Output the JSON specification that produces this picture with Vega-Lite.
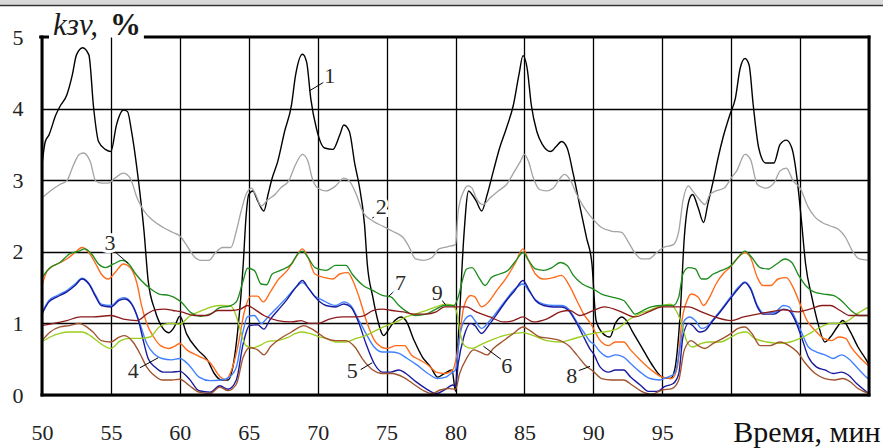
{
"$schema": "https://vega.github.io/schema/vega-lite/v6.json",
"width": 827, "height": 358,
"autosize": {"type": "none"},
"padding": {"left": 42, "top": 37, "right": 14, "bottom": 53},
"background": "white",
"config": {"view": {"stroke": null}},
"datasets": {
"curves": [
{"s":"1","t":50,"v":3.22},{"s":"1","t":50.24,"v":3.54},{"s":"1","t":50.5,"v":3.63},{"s":"1","t":51,"v":3.91},{"s":"1","t":51.3,"v":4.03},{"s":"1","t":51.8,"v":4.19},{"s":"1","t":52.2,"v":4.47},{"s":"1","t":52.5,"v":4.75},{"s":"1","t":52.95,"v":4.85},{"s":"1","t":53.4,"v":4.75},{"s":"1","t":53.75,"v":4.0},{"s":"1","t":54.1,"v":3.54},{"s":"1","t":54.6,"v":3.43},{"s":"1","t":55,"v":3.4},{"s":"1","t":55.4,"v":3.77},{"s":"1","t":55.9,"v":3.98},{"s":"1","t":56.2,"v":3.96},{"s":"1","t":56.5,"v":3.68},{"s":"1","t":57,"v":2.99},{"s":"1","t":57.4,"v":2.29},{"s":"1","t":57.7,"v":1.6},{"s":"1","t":58.2,"v":1.18},{"s":"1","t":58.7,"v":0.95},{"s":"1","t":59.2,"v":0.87},{"s":"1","t":59.6,"v":0.95},{"s":"1","t":60,"v":1.1},{"s":"1","t":60.5,"v":0.85},{"s":"1","t":61.3,"v":0.63},{"s":"1","t":62,"v":0.49},{"s":"1","t":62.5,"v":0.3},{"s":"1","t":63,"v":0.21},{"s":"1","t":63.5,"v":0.21},{"s":"1","t":63.8,"v":0.35},{"s":"1","t":64.2,"v":0.9},{"s":"1","t":64.6,"v":1.83},{"s":"1","t":64.8,"v":2.48},{"s":"1","t":65,"v":2.8},{"s":"1","t":65.3,"v":2.85},{"s":"1","t":65.65,"v":2.71},{"s":"1","t":66.1,"v":2.57},{"s":"1","t":66.4,"v":2.8},{"s":"1","t":66.7,"v":3.03},{"s":"1","t":67.1,"v":3.26},{"s":"1","t":67.6,"v":3.68},{"s":"1","t":68.1,"v":4.05},{"s":"1","t":68.4,"v":4.47},{"s":"1","t":68.9,"v":4.76},{"s":"1","t":69.2,"v":4.65},{"s":"1","t":69.5,"v":4.14},{"s":"1","t":69.9,"v":3.73},{"s":"1","t":70.5,"v":3.45},{"s":"1","t":71.1,"v":3.43},{"s":"1","t":71.6,"v":3.63},{"s":"1","t":71.9,"v":3.77},{"s":"1","t":72.3,"v":3.68},{"s":"1","t":72.7,"v":3.22},{"s":"1","t":73,"v":2.94},{"s":"1","t":73.4,"v":2.38},{"s":"1","t":73.6,"v":1.83},{"s":"1","t":74,"v":1.37},{"s":"1","t":74.3,"v":1.09},{"s":"1","t":74.8,"v":0.83},{"s":"1","t":75.1,"v":0.9},{"s":"1","t":75.6,"v":1.04},{"s":"1","t":76.05,"v":1.09},{"s":"1","t":76.4,"v":1.04},{"s":"1","t":77,"v":0.76},{"s":"1","t":77.6,"v":0.53},{"s":"1","t":78.2,"v":0.39},{"s":"1","t":78.7,"v":0.25},{"s":"1","t":79.2,"v":0.3},{"s":"1","t":79.75,"v":0.35},{"s":"1","t":80,"v":0.05},{"s":"1","t":80.15,"v":0.6},{"s":"1","t":80.3,"v":1.13},{"s":"1","t":80.6,"v":2.2},{"s":"1","t":80.95,"v":2.85},{"s":"1","t":81.2,"v":2.8},{"s":"1","t":81.5,"v":2.71},{"s":"1","t":81.9,"v":2.57},{"s":"1","t":82.3,"v":2.8},{"s":"1","t":82.75,"v":3.13},{"s":"1","t":83.2,"v":3.45},{"s":"1","t":83.7,"v":3.73},{"s":"1","t":84.2,"v":4.05},{"s":"1","t":84.6,"v":4.47},{"s":"1","t":84.9,"v":4.74},{"s":"1","t":85.2,"v":4.56},{"s":"1","t":85.5,"v":4.05},{"s":"1","t":85.9,"v":3.68},{"s":"1","t":86.3,"v":3.5},{"s":"1","t":86.9,"v":3.4},{"s":"1","t":87.3,"v":3.47},{"s":"1","t":87.7,"v":3.54},{"s":"1","t":88.1,"v":3.45},{"s":"1","t":88.55,"v":3.08},{"s":"1","t":89,"v":2.66},{"s":"1","t":89.5,"v":2.2},{"s":"1","t":89.9,"v":1.83},{"s":"1","t":90.2,"v":1.04},{"s":"1","t":90.7,"v":0.86},{"s":"1","t":91.2,"v":0.81},{"s":"1","t":91.6,"v":1.0},{"s":"1","t":92.05,"v":1.09},{"s":"1","t":92.4,"v":1.04},{"s":"1","t":92.8,"v":0.9},{"s":"1","t":93.5,"v":0.67},{"s":"1","t":94.2,"v":0.44},{"s":"1","t":95,"v":0.25},{"s":"1","t":95.6,"v":0.23},{"s":"1","t":95.9,"v":0.35},{"s":"1","t":96.3,"v":1.13},{"s":"1","t":96.6,"v":2.2},{"s":"1","t":97,"v":2.75},{"s":"1","t":97.2,"v":2.8},{"s":"1","t":97.6,"v":2.62},{"s":"1","t":98,"v":2.41},{"s":"1","t":98.3,"v":2.66},{"s":"1","t":98.7,"v":2.99},{"s":"1","t":99.05,"v":3.31},{"s":"1","t":99.4,"v":3.59},{"s":"1","t":99.9,"v":3.91},{"s":"1","t":100.3,"v":4.14},{"s":"1","t":100.65,"v":4.56},{"s":"1","t":101,"v":4.7},{"s":"1","t":101.3,"v":4.61},{"s":"1","t":101.6,"v":4.05},{"s":"1","t":102,"v":3.45},{"s":"1","t":102.5,"v":3.24},{"s":"1","t":103.1,"v":3.24},{"s":"1","t":103.55,"v":3.5},{"s":"1","t":104,"v":3.56},{"s":"1","t":104.4,"v":3.45},{"s":"1","t":104.8,"v":2.99},{"s":"1","t":105.1,"v":2.43},{"s":"1","t":105.4,"v":1.83},{"s":"1","t":105.85,"v":1.37},{"s":"1","t":106.3,"v":1.0},{"s":"1","t":106.8,"v":0.74},{"s":"1","t":107.2,"v":0.81},{"s":"1","t":107.7,"v":0.95},{"s":"1","t":108.1,"v":1.04},{"s":"1","t":108.6,"v":0.9},{"s":"1","t":109.2,"v":0.67},{"s":"1","t":109.8,"v":0.49},{"s":"1","t":110,"v":0.42},
{"s":"2","t":50,"v":2.75},{"s":"2","t":50.6,"v":2.85},{"s":"2","t":51.3,"v":2.94},{"s":"2","t":51.8,"v":2.99},{"s":"2","t":52.3,"v":3.22},{"s":"2","t":52.7,"v":3.36},{"s":"2","t":53,"v":3.38},{"s":"2","t":53.5,"v":3.26},{"s":"2","t":53.9,"v":2.99},{"s":"2","t":54.35,"v":2.96},{"s":"2","t":54.8,"v":2.96},{"s":"2","t":55.3,"v":3.03},{"s":"2","t":55.9,"v":3.1},{"s":"2","t":56.4,"v":3.03},{"s":"2","t":56.9,"v":2.75},{"s":"2","t":57.4,"v":2.57},{"s":"2","t":58.1,"v":2.43},{"s":"2","t":58.8,"v":2.34},{"s":"2","t":59.5,"v":2.27},{"s":"2","t":60,"v":2.22},{"s":"2","t":60.6,"v":2.06},{"s":"2","t":61.1,"v":1.92},{"s":"2","t":61.5,"v":1.88},{"s":"2","t":62.1,"v":1.88},{"s":"2","t":62.6,"v":1.99},{"s":"2","t":63.1,"v":2.06},{"s":"2","t":63.7,"v":2.06},{"s":"2","t":64.1,"v":2.29},{"s":"2","t":64.45,"v":2.57},{"s":"2","t":64.8,"v":2.8},{"s":"2","t":65.2,"v":2.89},{"s":"2","t":65.5,"v":2.8},{"s":"2","t":65.9,"v":2.64},{"s":"2","t":66.4,"v":2.73},{"s":"2","t":66.9,"v":2.8},{"s":"2","t":67.3,"v":2.89},{"s":"2","t":67.9,"v":2.99},{"s":"2","t":68.4,"v":3.22},{"s":"2","t":68.9,"v":3.36},{"s":"2","t":69.3,"v":3.26},{"s":"2","t":69.6,"v":3.03},{"s":"2","t":70,"v":2.89},{"s":"2","t":70.6,"v":2.85},{"s":"2","t":71.3,"v":2.92},{"s":"2","t":71.9,"v":3.03},{"s":"2","t":72.3,"v":2.99},{"s":"2","t":72.8,"v":2.8},{"s":"2","t":73.3,"v":2.55},{"s":"2","t":74,"v":2.43},{"s":"2","t":74.7,"v":2.36},{"s":"2","t":75.4,"v":2.29},{"s":"2","t":76.2,"v":2.2},{"s":"2","t":76.6,"v":2.08},{"s":"2","t":77.1,"v":1.9},{"s":"2","t":77.7,"v":1.88},{"s":"2","t":78.3,"v":1.92},{"s":"2","t":78.8,"v":2.04},{"s":"2","t":79.4,"v":2.07},{"s":"2","t":80,"v":2.1},{"s":"2","t":80.2,"v":2.57},{"s":"2","t":80.6,"v":2.85},{"s":"2","t":80.9,"v":2.92},{"s":"2","t":81.2,"v":2.89},{"s":"2","t":81.5,"v":2.75},{"s":"2","t":82,"v":2.66},{"s":"2","t":82.5,"v":2.75},{"s":"2","t":83.1,"v":2.85},{"s":"2","t":83.7,"v":2.94},{"s":"2","t":84.3,"v":3.13},{"s":"2","t":84.7,"v":3.26},{"s":"2","t":85,"v":3.36},{"s":"2","t":85.3,"v":3.26},{"s":"2","t":85.65,"v":3.03},{"s":"2","t":86.1,"v":2.87},{"s":"2","t":86.6,"v":2.85},{"s":"2","t":87.1,"v":2.89},{"s":"2","t":87.6,"v":3.03},{"s":"2","t":87.9,"v":3.08},{"s":"2","t":88.3,"v":3.01},{"s":"2","t":88.8,"v":2.8},{"s":"2","t":89.2,"v":2.66},{"s":"2","t":89.5,"v":2.57},{"s":"2","t":90,"v":2.45},{"s":"2","t":90.6,"v":2.34},{"s":"2","t":91.3,"v":2.29},{"s":"2","t":92.05,"v":2.27},{"s":"2","t":92.5,"v":2.15},{"s":"2","t":93,"v":1.99},{"s":"2","t":93.5,"v":1.9},{"s":"2","t":94,"v":1.9},{"s":"2","t":94.6,"v":1.99},{"s":"2","t":95.1,"v":2.06},{"s":"2","t":95.8,"v":2.1},{"s":"2","t":96.2,"v":2.29},{"s":"2","t":96.5,"v":2.71},{"s":"2","t":96.9,"v":2.92},{"s":"2","t":97.2,"v":2.85},{"s":"2","t":97.7,"v":2.73},{"s":"2","t":98.1,"v":2.66},{"s":"2","t":98.45,"v":2.8},{"s":"2","t":98.9,"v":2.85},{"s":"2","t":99.5,"v":2.89},{"s":"2","t":100,"v":3.03},{"s":"2","t":100.4,"v":3.13},{"s":"2","t":101,"v":3.36},{"s":"2","t":101.4,"v":3.29},{"s":"2","t":101.9,"v":2.94},{"s":"2","t":102.5,"v":2.89},{"s":"2","t":103.1,"v":2.96},{"s":"2","t":103.55,"v":3.13},{"s":"2","t":104,"v":3.17},{"s":"2","t":104.5,"v":2.99},{"s":"2","t":105,"v":2.89},{"s":"2","t":105.6,"v":2.62},{"s":"2","t":106.1,"v":2.48},{"s":"2","t":106.6,"v":2.41},{"s":"2","t":107.2,"v":2.36},{"s":"2","t":107.8,"v":2.31},{"s":"2","t":108.3,"v":2.2},{"s":"2","t":108.8,"v":2.01},{"s":"2","t":109.3,"v":1.9},{"s":"2","t":110,"v":1.88},
{"s":"3","t":50,"v":1.53},{"s":"3","t":50.4,"v":1.74},{"s":"3","t":51.1,"v":1.83},{"s":"3","t":51.8,"v":1.9},{"s":"3","t":52.4,"v":1.99},{"s":"3","t":52.9,"v":2.06},{"s":"3","t":53.4,"v":1.99},{"s":"3","t":53.9,"v":1.83},{"s":"3","t":54.3,"v":1.69},{"s":"3","t":54.8,"v":1.62},{"s":"3","t":55.3,"v":1.71},{"s":"3","t":55.9,"v":1.83},{"s":"3","t":56.4,"v":1.78},{"s":"3","t":56.9,"v":1.55},{"s":"3","t":57.2,"v":1.27},{"s":"3","t":57.6,"v":1.0},{"s":"3","t":58.1,"v":0.81},{"s":"3","t":58.6,"v":0.69},{"s":"3","t":59.2,"v":0.65},{"s":"3","t":59.7,"v":0.69},{"s":"3","t":60,"v":0.72},{"s":"3","t":60.5,"v":0.63},{"s":"3","t":61.4,"v":0.54},{"s":"3","t":62.2,"v":0.45},{"s":"3","t":62.9,"v":0.26},{"s":"3","t":63.3,"v":0.21},{"s":"3","t":63.7,"v":0.32},{"s":"3","t":64.2,"v":0.67},{"s":"3","t":64.7,"v":1.18},{"s":"3","t":65.15,"v":1.38},{"s":"3","t":65.65,"v":1.38},{"s":"3","t":66.05,"v":1.3},{"s":"3","t":66.6,"v":1.45},{"s":"3","t":67.1,"v":1.6},{"s":"3","t":67.8,"v":1.74},{"s":"3","t":68.4,"v":1.92},{"s":"3","t":68.9,"v":2.04},{"s":"3","t":69.3,"v":1.92},{"s":"3","t":69.8,"v":1.69},{"s":"3","t":70.5,"v":1.64},{"s":"3","t":71.1,"v":1.62},{"s":"3","t":71.6,"v":1.69},{"s":"3","t":72.2,"v":1.71},{"s":"3","t":72.5,"v":1.62},{"s":"3","t":73,"v":1.37},{"s":"3","t":73.6,"v":1.0},{"s":"3","t":74.2,"v":0.74},{"s":"3","t":75,"v":0.65},{"s":"3","t":75.7,"v":0.69},{"s":"3","t":76.3,"v":0.69},{"s":"3","t":76.8,"v":0.56},{"s":"3","t":77.4,"v":0.49},{"s":"3","t":78,"v":0.42},{"s":"3","t":78.6,"v":0.32},{"s":"3","t":79.2,"v":0.3},{"s":"3","t":79.8,"v":0.35},{"s":"3","t":80.2,"v":0.67},{"s":"3","t":80.6,"v":1.23},{"s":"3","t":81.1,"v":1.39},{"s":"3","t":81.4,"v":1.37},{"s":"3","t":81.9,"v":1.23},{"s":"3","t":82.4,"v":1.3},{"s":"3","t":83,"v":1.46},{"s":"3","t":83.7,"v":1.64},{"s":"3","t":84.3,"v":1.83},{"s":"3","t":84.9,"v":2.04},{"s":"3","t":85.3,"v":1.88},{"s":"3","t":85.8,"v":1.69},{"s":"3","t":86.4,"v":1.62},{"s":"3","t":87.1,"v":1.64},{"s":"3","t":87.7,"v":1.67},{"s":"3","t":88.2,"v":1.55},{"s":"3","t":88.8,"v":1.32},{"s":"3","t":89.3,"v":1.13},{"s":"3","t":89.8,"v":1.0},{"s":"3","t":90.5,"v":0.76},{"s":"3","t":91.1,"v":0.69},{"s":"3","t":91.6,"v":0.74},{"s":"3","t":92.2,"v":0.74},{"s":"3","t":92.7,"v":0.63},{"s":"3","t":93.4,"v":0.49},{"s":"3","t":94.2,"v":0.35},{"s":"3","t":95,"v":0.25},{"s":"3","t":95.7,"v":0.23},{"s":"3","t":96.1,"v":0.39},{"s":"3","t":96.4,"v":1.0},{"s":"3","t":96.8,"v":1.32},{"s":"3","t":97.1,"v":1.41},{"s":"3","t":97.6,"v":1.37},{"s":"3","t":98,"v":1.25},{"s":"3","t":98.45,"v":1.37},{"s":"3","t":98.9,"v":1.55},{"s":"3","t":99.5,"v":1.71},{"s":"3","t":100,"v":1.8},{"s":"3","t":100.5,"v":1.92},{"s":"3","t":101,"v":1.99},{"s":"3","t":101.4,"v":1.92},{"s":"3","t":101.9,"v":1.64},{"s":"3","t":102.3,"v":1.53},{"s":"3","t":102.9,"v":1.53},{"s":"3","t":103.4,"v":1.62},{"s":"3","t":104,"v":1.64},{"s":"3","t":104.5,"v":1.5},{"s":"3","t":105,"v":1.27},{"s":"3","t":105.5,"v":1.04},{"s":"3","t":106.1,"v":0.9},{"s":"3","t":106.7,"v":0.79},{"s":"3","t":107.3,"v":0.76},{"s":"3","t":107.8,"v":0.81},{"s":"3","t":108.3,"v":0.79},{"s":"3","t":108.7,"v":0.67},{"s":"3","t":109.3,"v":0.53},{"s":"3","t":110,"v":0.4},
{"s":"4","t":50,"v":1.15},{"s":"4","t":50.5,"v":1.32},{"s":"4","t":51.1,"v":1.39},{"s":"4","t":51.8,"v":1.46},{"s":"4","t":52.4,"v":1.55},{"s":"4","t":52.9,"v":1.63},{"s":"4","t":53.4,"v":1.56},{"s":"4","t":53.9,"v":1.39},{"s":"4","t":54.3,"v":1.27},{"s":"4","t":55,"v":1.25},{"s":"4","t":55.6,"v":1.34},{"s":"4","t":56,"v":1.36},{"s":"4","t":56.5,"v":1.28},{"s":"4","t":57.1,"v":1.0},{"s":"4","t":57.6,"v":0.72},{"s":"4","t":58.1,"v":0.58},{"s":"4","t":58.7,"v":0.51},{"s":"4","t":59.4,"v":0.49},{"s":"4","t":60,"v":0.51},{"s":"4","t":60.7,"v":0.41},{"s":"4","t":61.4,"v":0.25},{"s":"4","t":62.2,"v":0.2},{"s":"4","t":63,"v":0.21},{"s":"4","t":63.6,"v":0.25},{"s":"4","t":64.1,"v":0.39},{"s":"4","t":64.6,"v":0.9},{"s":"4","t":64.9,"v":1.09},{"s":"4","t":65.4,"v":1.11},{"s":"4","t":65.9,"v":1.0},{"s":"4","t":66.4,"v":1.09},{"s":"4","t":67.1,"v":1.23},{"s":"4","t":67.8,"v":1.37},{"s":"4","t":68.4,"v":1.5},{"s":"4","t":68.9,"v":1.57},{"s":"4","t":69.3,"v":1.5},{"s":"4","t":69.8,"v":1.38},{"s":"4","t":70.3,"v":1.33},{"s":"4","t":71.3,"v":1.25},{"s":"4","t":71.9,"v":1.3},{"s":"4","t":72.4,"v":1.25},{"s":"4","t":73,"v":1.04},{"s":"4","t":73.5,"v":0.86},{"s":"4","t":74.1,"v":0.67},{"s":"4","t":74.7,"v":0.6},{"s":"4","t":75.3,"v":0.6},{"s":"4","t":75.9,"v":0.58},{"s":"4","t":76.5,"v":0.51},{"s":"4","t":77.2,"v":0.42},{"s":"4","t":78,"v":0.3},{"s":"4","t":78.7,"v":0.23},{"s":"4","t":79.3,"v":0.25},{"s":"4","t":79.8,"v":0.32},{"s":"4","t":80,"v":0.35},{"s":"4","t":80.3,"v":0.81},{"s":"4","t":80.7,"v":1.06},{"s":"4","t":81.1,"v":1.11},{"s":"4","t":81.4,"v":1.04},{"s":"4","t":81.9,"v":0.93},{"s":"4","t":82.4,"v":1.02},{"s":"4","t":83,"v":1.16},{"s":"4","t":83.7,"v":1.34},{"s":"4","t":84.3,"v":1.48},{"s":"4","t":84.9,"v":1.55},{"s":"4","t":85.3,"v":1.46},{"s":"4","t":85.8,"v":1.33},{"s":"4","t":86.4,"v":1.27},{"s":"4","t":87.1,"v":1.25},{"s":"4","t":87.7,"v":1.25},{"s":"4","t":88.2,"v":1.2},{"s":"4","t":88.8,"v":1.02},{"s":"4","t":89.3,"v":0.88},{"s":"4","t":89.8,"v":0.74},{"s":"4","t":90,"v":0.72},{"s":"4","t":90.5,"v":0.6},{"s":"4","t":91.1,"v":0.53},{"s":"4","t":91.6,"v":0.56},{"s":"4","t":92.2,"v":0.53},{"s":"4","t":92.7,"v":0.44},{"s":"4","t":93.4,"v":0.32},{"s":"4","t":94.1,"v":0.23},{"s":"4","t":94.8,"v":0.21},{"s":"4","t":95.4,"v":0.25},{"s":"4","t":95.9,"v":0.3},{"s":"4","t":96.3,"v":0.67},{"s":"4","t":96.6,"v":1.04},{"s":"4","t":97,"v":1.09},{"s":"4","t":97.4,"v":1.04},{"s":"4","t":97.85,"v":0.93},{"s":"4","t":98.2,"v":0.95},{"s":"4","t":98.7,"v":1.06},{"s":"4","t":99.3,"v":1.2},{"s":"4","t":100,"v":1.38},{"s":"4","t":100.5,"v":1.5},{"s":"4","t":101,"v":1.58},{"s":"4","t":101.4,"v":1.5},{"s":"4","t":101.9,"v":1.25},{"s":"4","t":102.3,"v":1.15},{"s":"4","t":103.1,"v":1.15},{"s":"4","t":103.8,"v":1.25},{"s":"4","t":104.2,"v":1.23},{"s":"4","t":104.6,"v":1.09},{"s":"4","t":105.1,"v":0.88},{"s":"4","t":105.6,"v":0.67},{"s":"4","t":106.2,"v":0.6},{"s":"4","t":106.8,"v":0.56},{"s":"4","t":107.4,"v":0.51},{"s":"4","t":108,"v":0.56},{"s":"4","t":108.5,"v":0.51},{"s":"4","t":109.1,"v":0.39},{"s":"4","t":109.8,"v":0.25},{"s":"4","t":110,"v":0.22},
{"s":"5","t":50,"v":1.13},{"s":"5","t":50.5,"v":1.3},{"s":"5","t":51.1,"v":1.37},{"s":"5","t":51.8,"v":1.44},{"s":"5","t":52.4,"v":1.53},{"s":"5","t":52.9,"v":1.62},{"s":"5","t":53.4,"v":1.55},{"s":"5","t":53.9,"v":1.37},{"s":"5","t":54.3,"v":1.25},{"s":"5","t":55,"v":1.23},{"s":"5","t":55.6,"v":1.32},{"s":"5","t":56,"v":1.34},{"s":"5","t":56.5,"v":1.27},{"s":"5","t":57,"v":1.04},{"s":"5","t":57.4,"v":0.72},{"s":"5","t":57.7,"v":0.51},{"s":"5","t":58.2,"v":0.39},{"s":"5","t":58.8,"v":0.32},{"s":"5","t":59.4,"v":0.32},{"s":"5","t":60,"v":0.33},{"s":"5","t":60.7,"v":0.22},{"s":"5","t":61.4,"v":0.06},{"s":"5","t":62.2,"v":0.04},{"s":"5","t":62.9,"v":0.13},{"s":"5","t":63.5,"v":0.08},{"s":"5","t":64.1,"v":0.21},{"s":"5","t":64.6,"v":0.72},{"s":"5","t":65.05,"v":0.97},{"s":"5","t":65.65,"v":0.98},{"s":"5","t":66.1,"v":0.92},{"s":"5","t":66.5,"v":1.04},{"s":"5","t":67.1,"v":1.18},{"s":"5","t":67.8,"v":1.34},{"s":"5","t":68.4,"v":1.5},{"s":"5","t":68.9,"v":1.6},{"s":"5","t":69.3,"v":1.5},{"s":"5","t":69.8,"v":1.37},{"s":"5","t":70.6,"v":1.25},{"s":"5","t":71.3,"v":1.23},{"s":"5","t":71.9,"v":1.27},{"s":"5","t":72.4,"v":1.23},{"s":"5","t":73,"v":1.0},{"s":"5","t":73.5,"v":0.72},{"s":"5","t":74.1,"v":0.44},{"s":"5","t":74.7,"v":0.32},{"s":"5","t":75.3,"v":0.32},{"s":"5","t":75.9,"v":0.35},{"s":"5","t":76.4,"v":0.3},{"s":"5","t":77.1,"v":0.19},{"s":"5","t":77.85,"v":0.09},{"s":"5","t":78.6,"v":0.02},{"s":"5","t":79.2,"v":0.07},{"s":"5","t":79.8,"v":0.14},{"s":"5","t":80,"v":0.12},{"s":"5","t":80.2,"v":0.44},{"s":"5","t":80.6,"v":0.81},{"s":"5","t":81.1,"v":1.0},{"s":"5","t":81.4,"v":0.97},{"s":"5","t":81.9,"v":0.86},{"s":"5","t":82.4,"v":0.97},{"s":"5","t":83,"v":1.13},{"s":"5","t":83.7,"v":1.32},{"s":"5","t":84.3,"v":1.46},{"s":"5","t":84.9,"v":1.6},{"s":"5","t":85.3,"v":1.48},{"s":"5","t":85.8,"v":1.32},{"s":"5","t":86.4,"v":1.25},{"s":"5","t":87.1,"v":1.23},{"s":"5","t":87.7,"v":1.23},{"s":"5","t":88.2,"v":1.18},{"s":"5","t":88.8,"v":1.0},{"s":"5","t":89.3,"v":0.81},{"s":"5","t":89.8,"v":0.63},{"s":"5","t":90,"v":0.58},{"s":"5","t":90.5,"v":0.39},{"s":"5","t":91.1,"v":0.32},{"s":"5","t":91.6,"v":0.35},{"s":"5","t":92.2,"v":0.35},{"s":"5","t":92.7,"v":0.25},{"s":"5","t":93.4,"v":0.14},{"s":"5","t":94,"v":0.05},{"s":"5","t":94.6,"v":0.05},{"s":"5","t":95.2,"v":0.12},{"s":"5","t":95.8,"v":0.16},{"s":"5","t":96.2,"v":0.3},{"s":"5","t":96.5,"v":0.81},{"s":"5","t":96.9,"v":1.0},{"s":"5","t":97.2,"v":0.97},{"s":"5","t":97.7,"v":0.88},{"s":"5","t":98.1,"v":0.9},{"s":"5","t":98.6,"v":1.02},{"s":"5","t":99.2,"v":1.16},{"s":"5","t":100,"v":1.36},{"s":"5","t":100.5,"v":1.48},{"s":"5","t":101,"v":1.57},{"s":"5","t":101.4,"v":1.48},{"s":"5","t":101.9,"v":1.23},{"s":"5","t":102.3,"v":1.13},{"s":"5","t":103.1,"v":1.13},{"s":"5","t":103.8,"v":1.2},{"s":"5","t":104.2,"v":1.18},{"s":"5","t":104.6,"v":1.06},{"s":"5","t":105.1,"v":0.81},{"s":"5","t":105.6,"v":0.53},{"s":"5","t":106.2,"v":0.39},{"s":"5","t":106.8,"v":0.35},{"s":"5","t":107.4,"v":0.3},{"s":"5","t":108,"v":0.32},{"s":"5","t":108.5,"v":0.28},{"s":"5","t":109.1,"v":0.16},{"s":"5","t":109.8,"v":0.05},{"s":"5","t":110,"v":0.02},
{"s":"6","t":50,"v":0.74},{"s":"6","t":50.6,"v":0.81},{"s":"6","t":51.3,"v":0.86},{"s":"6","t":52,"v":0.88},{"s":"6","t":52.9,"v":0.88},{"s":"6","t":53.5,"v":0.83},{"s":"6","t":54.1,"v":0.74},{"s":"6","t":55,"v":0.65},{"s":"6","t":55.7,"v":0.76},{"s":"6","t":56.4,"v":0.79},{"s":"6","t":57.1,"v":0.79},{"s":"6","t":57.85,"v":0.81},{"s":"6","t":58.5,"v":0.95},{"s":"6","t":59.2,"v":1.0},{"s":"6","t":60,"v":0.99},{"s":"6","t":60.7,"v":1.1},{"s":"6","t":61.5,"v":1.17},{"s":"6","t":62.3,"v":1.23},{"s":"6","t":63,"v":1.25},{"s":"6","t":63.7,"v":1.24},{"s":"6","t":64.1,"v":1.1},{"s":"6","t":64.4,"v":0.9},{"s":"6","t":64.8,"v":0.69},{"s":"6","t":65.3,"v":0.66},{"s":"6","t":65.9,"v":0.7},{"s":"6","t":66.4,"v":0.75},{"s":"6","t":67.1,"v":0.76},{"s":"6","t":67.8,"v":0.8},{"s":"6","t":68.4,"v":0.86},{"s":"6","t":68.9,"v":0.88},{"s":"6","t":69.4,"v":0.86},{"s":"6","t":70,"v":0.82},{"s":"6","t":70.6,"v":0.79},{"s":"6","t":71.3,"v":0.74},{"s":"6","t":72.05,"v":0.74},{"s":"6","t":72.8,"v":0.79},{"s":"6","t":73.5,"v":0.83},{"s":"6","t":74.2,"v":0.9},{"s":"6","t":75,"v":0.97},{"s":"6","t":75.7,"v":1.02},{"s":"6","t":76.4,"v":1.09},{"s":"6","t":77.1,"v":1.13},{"s":"6","t":77.85,"v":1.18},{"s":"6","t":78.6,"v":1.23},{"s":"6","t":79.2,"v":1.27},{"s":"6","t":79.8,"v":1.25},{"s":"6","t":80.1,"v":1.15},{"s":"6","t":80.3,"v":0.9},{"s":"6","t":80.7,"v":0.68},{"s":"6","t":81.2,"v":0.65},{"s":"6","t":81.8,"v":0.7},{"s":"6","t":82.5,"v":0.76},{"s":"6","t":83.5,"v":0.83},{"s":"6","t":84.3,"v":0.86},{"s":"6","t":84.9,"v":0.87},{"s":"6","t":85.65,"v":0.83},{"s":"6","t":86.6,"v":0.76},{"s":"6","t":87.6,"v":0.74},{"s":"6","t":88.3,"v":0.77},{"s":"6","t":89,"v":0.81},{"s":"6","t":90,"v":0.86},{"s":"6","t":90.8,"v":0.88},{"s":"6","t":91.8,"v":0.93},{"s":"6","t":92.5,"v":1.04},{"s":"6","t":93.3,"v":1.13},{"s":"6","t":94,"v":1.18},{"s":"6","t":94.7,"v":1.23},{"s":"6","t":95.6,"v":1.27},{"s":"6","t":96,"v":1.18},{"s":"6","t":96.4,"v":1.0},{"s":"6","t":96.8,"v":0.74},{"s":"6","t":97.2,"v":0.67},{"s":"6","t":97.85,"v":0.72},{"s":"6","t":98.45,"v":0.74},{"s":"6","t":99.2,"v":0.74},{"s":"6","t":100,"v":0.81},{"s":"6","t":100.5,"v":0.86},{"s":"6","t":101.1,"v":0.88},{"s":"6","t":101.7,"v":0.79},{"s":"6","t":102.6,"v":0.74},{"s":"6","t":103.55,"v":0.72},{"s":"6","t":104.3,"v":0.74},{"s":"6","t":105,"v":0.79},{"s":"6","t":105.7,"v":0.86},{"s":"6","t":106.5,"v":0.95},{"s":"6","t":107.2,"v":1.0},{"s":"6","t":107.9,"v":1.0},{"s":"6","t":108.5,"v":1.04},{"s":"6","t":109.1,"v":1.13},{"s":"6","t":110,"v":1.23},
{"s":"7","t":50,"v":1.64},{"s":"7","t":50.6,"v":1.78},{"s":"7","t":51.3,"v":1.85},{"s":"7","t":52,"v":1.97},{"s":"7","t":52.7,"v":2.01},{"s":"7","t":53.1,"v":2.04},{"s":"7","t":53.6,"v":1.97},{"s":"7","t":54.1,"v":1.83},{"s":"7","t":54.6,"v":1.78},{"s":"7","t":55.2,"v":1.83},{"s":"7","t":55.8,"v":1.88},{"s":"7","t":56.3,"v":1.83},{"s":"7","t":56.8,"v":1.69},{"s":"7","t":57.2,"v":1.6},{"s":"7","t":57.9,"v":1.48},{"s":"7","t":58.5,"v":1.41},{"s":"7","t":59.2,"v":1.39},{"s":"7","t":59.8,"v":1.34},{"s":"7","t":60.1,"v":1.3},{"s":"7","t":60.8,"v":1.15},{"s":"7","t":61.5,"v":1.1},{"s":"7","t":62.3,"v":1.14},{"s":"7","t":62.9,"v":1.22},{"s":"7","t":63.6,"v":1.24},{"s":"7","t":64.1,"v":1.3},{"s":"7","t":64.6,"v":1.6},{"s":"7","t":64.9,"v":1.77},{"s":"7","t":65.4,"v":1.74},{"s":"7","t":65.9,"v":1.55},{"s":"7","t":66.3,"v":1.54},{"s":"7","t":66.7,"v":1.69},{"s":"7","t":67.3,"v":1.74},{"s":"7","t":68.1,"v":1.83},{"s":"7","t":68.55,"v":1.97},{"s":"7","t":68.9,"v":2.01},{"s":"7","t":69.3,"v":1.92},{"s":"7","t":69.8,"v":1.78},{"s":"7","t":70.6,"v":1.74},{"s":"7","t":71.3,"v":1.81},{"s":"7","t":72.05,"v":1.81},{"s":"7","t":72.5,"v":1.69},{"s":"7","t":73.3,"v":1.53},{"s":"7","t":74,"v":1.46},{"s":"7","t":74.7,"v":1.39},{"s":"7","t":75.3,"v":1.37},{"s":"7","t":75.9,"v":1.25},{"s":"7","t":76.5,"v":1.16},{"s":"7","t":77.1,"v":1.11},{"s":"7","t":77.85,"v":1.13},{"s":"7","t":78.6,"v":1.2},{"s":"7","t":79.2,"v":1.25},{"s":"7","t":79.9,"v":1.25},{"s":"7","t":80.2,"v":1.37},{"s":"7","t":80.5,"v":1.6},{"s":"7","t":80.8,"v":1.76},{"s":"7","t":81.2,"v":1.78},{"s":"7","t":81.7,"v":1.64},{"s":"7","t":82.15,"v":1.53},{"s":"7","t":82.6,"v":1.64},{"s":"7","t":83.2,"v":1.69},{"s":"7","t":83.8,"v":1.74},{"s":"7","t":84.4,"v":1.88},{"s":"7","t":84.9,"v":1.99},{"s":"7","t":85.3,"v":1.88},{"s":"7","t":85.8,"v":1.76},{"s":"7","t":86.4,"v":1.74},{"s":"7","t":87,"v":1.78},{"s":"7","t":87.6,"v":1.85},{"s":"7","t":88.1,"v":1.81},{"s":"7","t":88.55,"v":1.67},{"s":"7","t":89.2,"v":1.55},{"s":"7","t":90,"v":1.48},{"s":"7","t":90.6,"v":1.41},{"s":"7","t":91.3,"v":1.37},{"s":"7","t":92.2,"v":1.32},{"s":"7","t":92.7,"v":1.2},{"s":"7","t":93,"v":1.13},{"s":"7","t":93.6,"v":1.18},{"s":"7","t":94.2,"v":1.23},{"s":"7","t":95,"v":1.25},{"s":"7","t":95.8,"v":1.25},{"s":"7","t":96.2,"v":1.37},{"s":"7","t":96.5,"v":1.69},{"s":"7","t":96.9,"v":1.78},{"s":"7","t":97.4,"v":1.76},{"s":"7","t":97.85,"v":1.62},{"s":"7","t":98.2,"v":1.62},{"s":"7","t":98.7,"v":1.69},{"s":"7","t":99.3,"v":1.74},{"s":"7","t":100,"v":1.81},{"s":"7","t":100.5,"v":1.92},{"s":"7","t":101,"v":2.01},{"s":"7","t":101.5,"v":1.92},{"s":"7","t":102.1,"v":1.78},{"s":"7","t":102.7,"v":1.76},{"s":"7","t":103.3,"v":1.83},{"s":"7","t":103.9,"v":1.9},{"s":"7","t":104.4,"v":1.85},{"s":"7","t":104.9,"v":1.67},{"s":"7","t":105.4,"v":1.53},{"s":"7","t":106,"v":1.44},{"s":"7","t":106.7,"v":1.41},{"s":"7","t":107.4,"v":1.39},{"s":"7","t":108.1,"v":1.3},{"s":"7","t":108.7,"v":1.18},{"s":"7","t":109.3,"v":1.11},{"s":"7","t":110,"v":1.11},
{"s":"8","t":50,"v":0.76},{"s":"8","t":50.6,"v":0.88},{"s":"8","t":51.3,"v":0.95},{"s":"8","t":52,"v":0.97},{"s":"8","t":52.7,"v":1.0},{"s":"8","t":53.1,"v":0.97},{"s":"8","t":53.7,"v":0.88},{"s":"8","t":54.3,"v":0.76},{"s":"8","t":55,"v":0.74},{"s":"8","t":55.6,"v":0.81},{"s":"8","t":56,"v":0.83},{"s":"8","t":56.6,"v":0.74},{"s":"8","t":57.1,"v":0.58},{"s":"8","t":57.6,"v":0.39},{"s":"8","t":58.1,"v":0.28},{"s":"8","t":58.7,"v":0.21},{"s":"8","t":59.4,"v":0.21},{"s":"8","t":60,"v":0.22},{"s":"8","t":60.7,"v":0.13},{"s":"8","t":61.4,"v":0.04},{"s":"8","t":62.2,"v":0.02},{"s":"8","t":62.9,"v":0.11},{"s":"8","t":63.5,"v":0.06},{"s":"8","t":64.1,"v":0.15},{"s":"8","t":64.6,"v":0.53},{"s":"8","t":65.05,"v":0.66},{"s":"8","t":65.65,"v":0.63},{"s":"8","t":66.1,"v":0.56},{"s":"8","t":66.6,"v":0.68},{"s":"8","t":67.3,"v":0.79},{"s":"8","t":68.1,"v":0.88},{"s":"8","t":68.7,"v":0.95},{"s":"8","t":69,"v":0.97},{"s":"8","t":69.5,"v":0.93},{"s":"8","t":70,"v":0.87},{"s":"8","t":70.6,"v":0.79},{"s":"8","t":71.3,"v":0.76},{"s":"8","t":72.05,"v":0.76},{"s":"8","t":72.7,"v":0.67},{"s":"8","t":73.3,"v":0.49},{"s":"8","t":74,"v":0.35},{"s":"8","t":74.7,"v":0.3},{"s":"8","t":75.4,"v":0.3},{"s":"8","t":76.2,"v":0.25},{"s":"8","t":76.9,"v":0.16},{"s":"8","t":77.6,"v":0.07},{"s":"8","t":78.3,"v":0.02},{"s":"8","t":78.9,"v":0.07},{"s":"8","t":79.5,"v":0.09},{"s":"8","t":80,"v":0.08},{"s":"8","t":80.3,"v":0.3},{"s":"8","t":80.8,"v":0.51},{"s":"8","t":81.3,"v":0.63},{"s":"8","t":81.8,"v":0.6},{"s":"8","t":82.3,"v":0.56},{"s":"8","t":82.75,"v":0.65},{"s":"8","t":83.5,"v":0.76},{"s":"8","t":84.2,"v":0.86},{"s":"8","t":84.9,"v":0.95},{"s":"8","t":85.4,"v":0.9},{"s":"8","t":86.1,"v":0.81},{"s":"8","t":86.9,"v":0.79},{"s":"8","t":87.6,"v":0.76},{"s":"8","t":88.2,"v":0.69},{"s":"8","t":88.8,"v":0.56},{"s":"8","t":89.4,"v":0.42},{"s":"8","t":90,"v":0.33},{"s":"8","t":90.6,"v":0.23},{"s":"8","t":91.3,"v":0.21},{"s":"8","t":92.2,"v":0.21},{"s":"8","t":92.8,"v":0.14},{"s":"8","t":93.5,"v":0.05},{"s":"8","t":94.2,"v":0.01},{"s":"8","t":95,"v":0.07},{"s":"8","t":95.7,"v":0.09},{"s":"8","t":96.2,"v":0.21},{"s":"8","t":96.6,"v":0.63},{"s":"8","t":97.1,"v":0.76},{"s":"8","t":97.6,"v":0.69},{"s":"8","t":98.1,"v":0.65},{"s":"8","t":98.7,"v":0.72},{"s":"8","t":99.4,"v":0.79},{"s":"8","t":100,"v":0.86},{"s":"8","t":100.5,"v":0.93},{"s":"8","t":101,"v":0.95},{"s":"8","t":101.5,"v":0.86},{"s":"8","t":102.1,"v":0.69},{"s":"8","t":102.8,"v":0.69},{"s":"8","t":103.55,"v":0.74},{"s":"8","t":104.2,"v":0.69},{"s":"8","t":104.8,"v":0.6},{"s":"8","t":105.4,"v":0.44},{"s":"8","t":106.1,"v":0.3},{"s":"8","t":106.8,"v":0.23},{"s":"8","t":107.5,"v":0.21},{"s":"8","t":108.1,"v":0.23},{"s":"8","t":108.6,"v":0.19},{"s":"8","t":109.2,"v":0.09},{"s":"8","t":110,"v":0.02},
{"s":"9","t":50,"v":0.97},{"s":"9","t":50.85,"v":1.0},{"s":"9","t":51.8,"v":1.04},{"s":"9","t":52.8,"v":1.09},{"s":"9","t":53.7,"v":1.09},{"s":"9","t":55,"v":1.11},{"s":"9","t":55.9,"v":1.06},{"s":"9","t":56.9,"v":1.04},{"s":"9","t":57.6,"v":1.13},{"s":"9","t":58.2,"v":1.19},{"s":"9","t":58.9,"v":1.2},{"s":"9","t":59.5,"v":1.18},{"s":"9","t":60.1,"v":1.16},{"s":"9","t":61.1,"v":1.11},{"s":"9","t":62,"v":1.11},{"s":"9","t":62.75,"v":1.18},{"s":"9","t":63.7,"v":1.18},{"s":"9","t":64.4,"v":1.2},{"s":"9","t":64.9,"v":1.25},{"s":"9","t":65.4,"v":1.2},{"s":"9","t":66.1,"v":1.11},{"s":"9","t":67.1,"v":1.04},{"s":"9","t":68.1,"v":1.02},{"s":"9","t":68.8,"v":1.04},{"s":"9","t":69.4,"v":1.0},{"s":"9","t":70,"v":1.0},{"s":"9","t":70.85,"v":1.06},{"s":"9","t":71.8,"v":1.09},{"s":"9","t":72.8,"v":1.09},{"s":"9","t":73.4,"v":1.11},{"s":"9","t":74,"v":1.18},{"s":"9","t":74.7,"v":1.2},{"s":"9","t":75.4,"v":1.18},{"s":"9","t":76.2,"v":1.16},{"s":"9","t":77,"v":1.13},{"s":"9","t":77.85,"v":1.13},{"s":"9","t":78.6,"v":1.16},{"s":"9","t":79.2,"v":1.23},{"s":"9","t":80,"v":1.23},{"s":"9","t":80.8,"v":1.23},{"s":"9","t":81.5,"v":1.16},{"s":"9","t":82.5,"v":1.09},{"s":"9","t":83.5,"v":1.02},{"s":"9","t":84.2,"v":1.04},{"s":"9","t":84.9,"v":1.09},{"s":"9","t":85.65,"v":1.02},{"s":"9","t":86.6,"v":1.06},{"s":"9","t":87.6,"v":1.16},{"s":"9","t":88.3,"v":1.18},{"s":"9","t":89,"v":1.11},{"s":"9","t":90,"v":1.18},{"s":"9","t":90.8,"v":1.23},{"s":"9","t":91.8,"v":1.18},{"s":"9","t":93,"v":1.09},{"s":"9","t":94,"v":1.16},{"s":"9","t":95,"v":1.23},{"s":"9","t":95.9,"v":1.23},{"s":"9","t":96.9,"v":1.23},{"s":"9","t":97.85,"v":1.16},{"s":"9","t":98.8,"v":1.09},{"s":"9","t":100,"v":1.04},{"s":"9","t":100.9,"v":1.09},{"s":"9","t":101.9,"v":1.13},{"s":"9","t":102.8,"v":1.16},{"s":"9","t":103.8,"v":1.19},{"s":"9","t":104.8,"v":1.16},{"s":"9","t":105.7,"v":1.2},{"s":"9","t":106.6,"v":1.25},{"s":"9","t":107.2,"v":1.25},{"s":"9","t":107.9,"v":1.18},{"s":"9","t":108.6,"v":1.11},{"s":"9","t":109.3,"v":1.11},{"s":"9","t":110,"v":1.11}
],
"labels": [
{"lab":"1","t":70.87,"v":4.46},{"lab":"2","t":74.62,"v":2.63},{"lab":"3","t":54.93,"v":2.12},{"lab":"4","t":56.62,"v":0.33},{"lab":"5","t":72.51,"v":0.33},{"lab":"6","t":83.72,"v":0.4},{"lab":"7","t":76.01,"v":1.56},{"lab":"8","t":88.43,"v":0.26},{"lab":"9","t":78.67,"v":1.42}
],
"leaders": [
{"t":70.63,"v":4.39,"t2":69.42,"v2":4.25},{"t":74.57,"v":2.55,"t2":73.96,"v2":2.47},{"t":55.29,"v":2.0,"t2":56.25,"v2":1.84},{"t":57.1,"v":0.38,"t2":58.43,"v2":0.52},{"t":73.12,"v":0.355,"t2":73.96,"v2":0.45},{"t":83.36,"v":0.49,"t2":82.03,"v2":0.68},{"t":75.65,"v":1.47,"t2":75.17,"v2":1.38},{"t":88.79,"v":0.33,"t2":89.76,"v2":0.4},{"t":78.91,"v":1.35,"t2":79.28,"v2":1.26}
],
"borders": [
{"t":50,"v":0,"t2":50,"v2":5},{"t":50,"v":0,"t2":110,"v2":0},{"t":110,"v":0,"t2":110,"v2":5},{"t":57.5,"v":5,"t2":110,"v2":5},{"t":49.9,"v":5,"t2":50.4,"v2":5}
],
"chrome": [
{"t":46.95,"v":5.485,"t2":111.05,"v2":5.485}
],
"chromeline": [
{"t":46.95,"v":5.44,"t2":111.05,"v2":5.44}
]
},
"encoding": {
"x": {"field": "t", "type": "quantitative",
 "scale": {"domain": [50, 110], "nice": false, "zero": false},
 "axis": {"values": [50,55,60,65,70,75,80,85,90,95,100,105,110], "grid": true, "gridColor": "#000000", "gridWidth": 1.3, "gridOpacity": 1,
  "domain": false, "ticks": false, "tickSize": 0,
  "labelExpr": "datum.value < 100 ? datum.label : ''", "labelFont": "Liberation Serif", "labelFontSize": 22, "labelColor": "#222222",
  "labelBaseline": "alphabetic", "labelPadding": 44, "labelFlush": false,
  "title": "Время, мин", "titleFont": "Liberation Serif", "titleFontSize": 30, "titleFontWeight": "normal", "titleColor": "#111111",
  "titleAnchor": null, "titleAlign": "right", "titleX": 838, "titleY": 46, "titleBaseline": "alphabetic"}},
"y": {"field": "v", "type": "quantitative",
 "scale": {"domain": [0, 5], "nice": false},
 "axis": {"values": [0,1,2,3,4,5], "grid": true, "gridColor": "#000000", "gridWidth": 1.3,
  "gridOpacity": {"condition": {"test": "datum.value === 5", "value": 0}, "value": 1},
  "domain": false, "ticks": false, "tickSize": 0,
  "labelFont": "Liberation Serif", "labelFontSize": 22, "labelColor": "#222222", "labelPadding": 19, "labelBaseline": "middle",
  "title": null}}
},
"layer": [
{"data": {"name": "chrome"},
 "mark": {"type": "rule", "color": "#d9d9d9", "strokeWidth": 5, "clip": false},
 "encoding": {"x2": {"field": "t2"}, "y2": {"field": "v2"}}},
{"data": {"name": "chromeline"},
 "mark": {"type": "rule", "color": "#333333", "strokeWidth": 1.5, "clip": false},
 "encoding": {"x2": {"field": "t2"}, "y2": {"field": "v2"}}},
{"data": {"name": "curves"},
 "mark": {"type": "line", "interpolate": "monotone", "clip": true},
 "encoding": {
  "color": {"field": "s", "type": "nominal", "legend": null,
   "scale": {"domain": ["2","9","6","8","7","3","4","5","1"], "range": ["#a3a3a3","#8b1a1a","#9acd1e","#a0522d","#1e8c1e","#ff6a1a","#4080ff","#1a1a9c","#000000"]}},
  "strokeWidth": {"field": "s", "type": "ordinal", "legend": null,
   "scale": {"domain": ["2","9","6","8","7","3","4","5","1"], "range": [1.3,1.4,1.3,1.4,1.4,1.4,1.4,2.0,1.7]}},
  "order": {"field": "s", "type": "nominal"}
 }},
{"data": {"name": "borders"},
 "mark": {"type": "rule", "color": "#000000", "strokeWidth": 3, "strokeCap": "square", "clip": false},
 "encoding": {"x2": {"field": "t2"}, "y2": {"field": "v2"}}},
{"data": {"name": "leaders"},
 "mark": {"type": "rule", "color": "#000000", "strokeWidth": 1},
 "encoding": {"x2": {"field": "t2"}, "y2": {"field": "v2"}}},
{"data": {"name": "labels"},
 "mark": {"type": "text", "font": "Liberation Serif", "fontSize": 22, "align": "center", "baseline": "middle", "stroke": "white", "strokeWidth": 6, "fill": "white"},
 "encoding": {"text": {"field": "lab"}}},
{"data": {"name": "labels"},
 "mark": {"type": "text", "font": "Liberation Serif", "fontSize": 22, "align": "center", "baseline": "middle", "color": "#2a2a2a"},
 "encoding": {"text": {"field": "lab"}}},
{"data": {"values": [{"lab": "kзv,", "t": 50.8, "v": 5.028}]},
 "mark": {"type": "text", "font": "Liberation Serif", "fontSize": 31, "fontStyle": "italic", "align": "left", "baseline": "alphabetic", "color": "#1a1a1a", "clip": false},
 "encoding": {"text": {"field": "lab"}}},
{"data": {"values": [{"lab": "%", "t": 54.93, "v": 5.028}]},
 "mark": {"type": "text", "font": "Liberation Serif", "fontSize": 31, "fontWeight": "bold", "align": "left", "baseline": "alphabetic", "color": "#1a1a1a", "clip": false},
 "encoding": {"text": {"field": "lab"}}}
]
}
